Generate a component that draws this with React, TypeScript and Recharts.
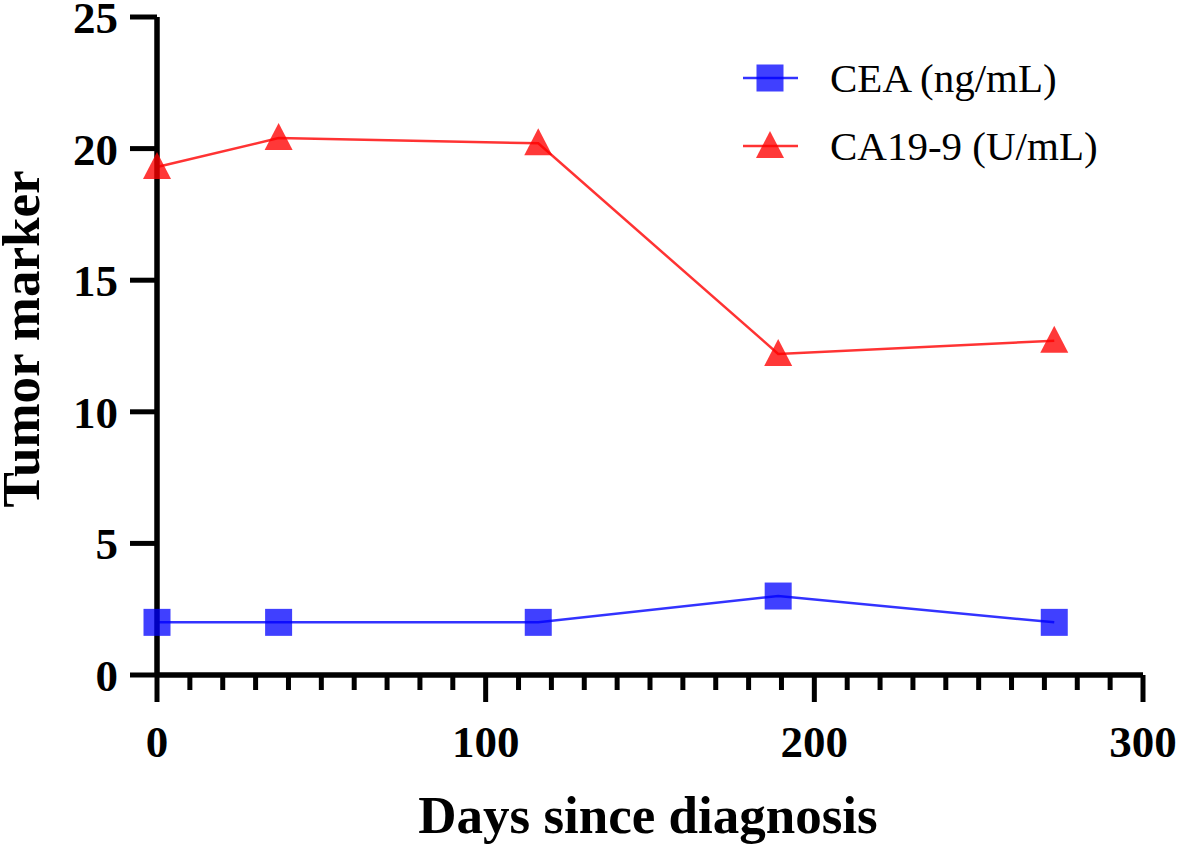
import React from 'react'
import {LineChart, Line, XAxis, YAxis, Legend} from 'recharts'

const days = [0, 37, 116, 189, 273]
const cea = [2, 2, 2, 3, 2]
const ca199 = [19.3, 20.4, 20.2, 12.2, 12.7]
const xTicks = Array.from({length: 31}, (_, i) => i * 10)
const yTicks = [0, 5, 10, 15, 20, 25]
const seriesNames = ['CEA (ng/mL)', 'CA19-9 (U/mL)']

const data = days.map((d, i) => ({day: d, cea: cea[i], ca199: ca199[i]}))

const FONT = '"Liberation Serif", "Times New Roman", serif'
const BLUE = '#0000FF'
const RED = '#FF0000'

const Square = (props: any) => {
  const {cx, cy} = props
  if (cx == null || cy == null) return null
  return <rect x={cx - 13.5} y={cy - 13.5} width={27} height={27} fill={BLUE} fillOpacity={0.75} />
}

const Triangle = (props: any) => {
  const {cx, cy} = props
  if (cx == null || cy == null) return null
  return <polygon points={`${cx},${cy - 15} ${cx + 14},${cy + 12} ${cx - 14},${cy + 12}`} fill={RED} fillOpacity={0.78} />
}

const XTick = (props: any) => {
  const {x, y, payload} = props
  const v = payload.value
  const major = v % 100 === 0
  return (
    <g>
      <line x1={x} x2={x} y1={y} y2={y + (major ? 27 : 15)} stroke="#000" strokeWidth={5} />
      {major && (
        <text x={x} y={y + 82} textAnchor="middle" fontFamily={FONT} fontWeight="bold" fontSize={45} fill="#000">{v}</text>
      )}
    </g>
  )
}

const LegendBox = () => (
  <svg width={440} height={130}>
    {seriesNames.map((name, i) => {
      const cy = 38 + i * 68
      const color = i === 0 ? BLUE : RED
      return (
        <g key={name}>
          <line x1={13} x2={68} y1={cy} y2={cy} stroke={color} strokeOpacity={0.8} strokeWidth={2.5} />
          {i === 0 ? <Square cx={40} cy={cy} /> : <Triangle cx={40} cy={cy} />}
          <text x={100} y={cy + 14} fontFamily={FONT} fontSize={41} fill="#000">{name}</text>
        </g>
      )
    })}
  </svg>
)

export default function App() {
  return (
    <div style={{position: 'absolute', left: 0, top: 0, width: 1180, height: 847, background: '#fff'}}>
      <LineChart width={1180} height={847} data={data} margin={{top: 17, right: 37, bottom: 0, left: 0}}>
        <XAxis
          dataKey="day"
          type="number"
          domain={[0, 300]}
          ticks={xTicks}
          interval={0}
          height={172}
          tickSize={0}
          tickMargin={0}
          tick={<XTick />}
          axisLine={{stroke: '#000', strokeWidth: 5.5}}
          label={{content: () => (
            <text x={648} y={833} textAnchor="middle" fontFamily={FONT} fontWeight="bold" fontSize={53} fill="#000">Days since diagnosis</text>
          )}}
        />
        <YAxis
          type="number"
          domain={[0, 25]}
          ticks={yTicks}
          interval={0}
          width={157}
          tickSize={27}
          tickMargin={12}
          tickLine={{stroke: '#000', strokeWidth: 5}}
          axisLine={{stroke: '#000', strokeWidth: 5.5}}
          tick={{fontFamily: FONT, fontWeight: 'bold', fontSize: 45, fill: '#000'}}
          label={{content: () => (
            <text x={39} y={339} transform="rotate(-90, 39, 339)" textAnchor="middle" fontFamily={FONT} fontWeight="bold" fontSize={53} fill="#000">Tumor marker</text>
          )}}
        />
        <Legend
          layout="vertical"
          align="center"
          verticalAlign="middle"
          wrapperStyle={{position: 'absolute', left: 730, top: 40, width: 440, height: 130}}
          content={() => <LegendBox />}
        />
        <Line dataKey="cea" name={seriesNames[0]} stroke={BLUE} strokeOpacity={0.8} strokeWidth={2.5} dot={<Square />} activeDot={false} isAnimationActive={false} />
        <Line dataKey="ca199" name={seriesNames[1]} stroke={RED} strokeOpacity={0.8} strokeWidth={2.5} dot={<Triangle />} activeDot={false} isAnimationActive={false} />
      </LineChart>
    </div>
  )
}
